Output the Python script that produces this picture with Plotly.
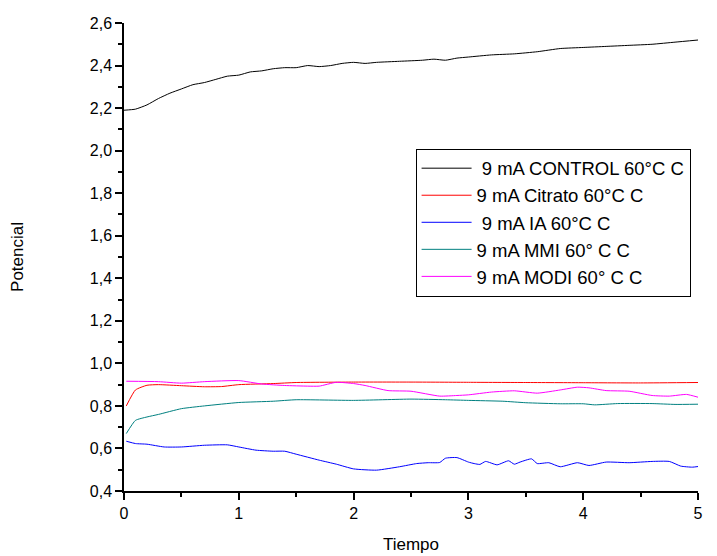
import plotly.graph_objects as go

# ---- data ----
x_control = [0.0, 0.1, 0.2, 0.3, 0.4, 0.5, 0.6, 0.7, 0.8, 0.9, 1.0, 1.1, 1.2, 1.3, 1.4, 1.5, 1.6, 1.7, 1.8,
             1.9, 2.0, 2.1, 2.2, 2.4, 2.6, 2.7, 2.8, 2.9, 3.0, 3.2, 3.4, 3.6, 3.8, 4.0, 4.2, 4.4, 4.6, 4.8, 5.0]
y_control = [2.19, 2.195, 2.215, 2.245, 2.27, 2.29, 2.31, 2.32, 2.335, 2.35, 2.355, 2.37, 2.375, 2.385, 2.39,
             2.39, 2.40, 2.395, 2.40, 2.41, 2.415, 2.41, 2.415, 2.42, 2.425, 2.43, 2.425, 2.435, 2.44, 2.45,
             2.455, 2.465, 2.48, 2.485, 2.49, 2.495, 2.50, 2.51, 2.52]

x_citrato = [0.02, 0.1, 0.2, 0.3, 0.5, 0.7, 0.85, 1.0, 1.3, 1.5, 2.0, 2.5, 3.0, 3.5, 4.0, 4.5, 5.0]
y_citrato = [0.80, 0.875, 0.897, 0.90, 0.895, 0.89, 0.891, 0.90, 0.905, 0.91, 0.912, 0.912, 0.911, 0.91,
             0.909, 0.908, 0.91]

x_ia = [0.02, 0.1, 0.2, 0.35, 0.5, 0.7, 0.9, 1.0, 1.15, 1.3, 1.4, 1.5, 1.7, 1.85, 2.0, 2.2, 2.4, 2.55, 2.65,
        2.75, 2.8, 2.9, 3.0, 3.05, 3.1, 3.15, 3.25, 3.35, 3.4, 3.45, 3.55, 3.6, 3.7, 3.8, 3.95, 4.05, 4.2,
        4.4, 4.6, 4.75, 4.85, 4.95, 5.0]
y_ia = [0.634, 0.623, 0.62, 0.607, 0.607, 0.615, 0.617, 0.607, 0.592, 0.587, 0.587, 0.573, 0.545, 0.526,
        0.504, 0.498, 0.514, 0.529, 0.533, 0.534, 0.554, 0.557, 0.536, 0.529, 0.525, 0.539, 0.523, 0.542,
        0.526, 0.536, 0.551, 0.529, 0.533, 0.514, 0.533, 0.52, 0.536, 0.533, 0.539, 0.539, 0.517, 0.512,
        0.515]

x_mmi = [0.02, 0.1, 0.2, 0.3, 0.5, 0.7, 1.0, 1.3, 1.5, 2.0, 2.5, 2.8, 3.0, 3.3, 3.5, 3.8, 4.0, 4.1, 4.3,
         4.6, 4.8, 5.0]
y_mmi = [0.67, 0.732, 0.748, 0.76, 0.787, 0.80, 0.816, 0.822, 0.829, 0.826, 0.832, 0.829, 0.826, 0.822,
         0.815, 0.81, 0.81, 0.805, 0.811, 0.811, 0.807, 0.808]

x_modi = [0.02, 0.3, 0.5, 0.7, 1.0, 1.2, 1.4, 1.6, 1.7, 1.85, 2.0, 2.1, 2.3, 2.5, 2.75, 2.9, 3.0, 3.2, 3.4,
          3.6, 3.8, 3.95, 4.05, 4.2, 4.4, 4.6, 4.75, 4.9, 5.0]
y_modi = [0.916, 0.914, 0.907, 0.914, 0.919, 0.903, 0.896, 0.893, 0.893, 0.911, 0.905, 0.896, 0.872,
          0.869, 0.846, 0.849, 0.852, 0.865, 0.871, 0.86, 0.875, 0.888, 0.885, 0.872, 0.869, 0.849, 0.846,
          0.854, 0.841]

names = [" 9 mA CONTROL 60°C C", "9 mA Citrato 60°C C", " 9 mA IA 60°C C", "9 mA MMI 60° C C",
         "9 mA MODI 60° C C"]
colors = ["#000000", "#FF0000", "#0000FF", "#008080", "#FF00FF"]

x_ticks = [0, 1, 2, 3, 4, 5]
y_ticks = [0.4, 0.6, 0.8, 1.0, 1.2, 1.4, 1.6, 1.8, 2.0, 2.2, 2.4, 2.6]

series = [(x_control, y_control), (x_citrato, y_citrato), (x_ia, y_ia), (x_mmi, y_mmi), (x_modi, y_modi)]

FONT = "Arial, Liberation Sans, sans-serif"

fig = go.Figure()
for (xs, ys), nm, c in zip(series, names, colors):
    fig.add_trace(go.Scatter(x=xs, y=ys, mode="lines", name=nm,
                             line=dict(color=c, width=1, shape="spline", smoothing=0.5)))

axis_common = dict(showline=True, linecolor="black", linewidth=1.5, showgrid=False, zeroline=False,
                   ticks="outside", ticklen=7, tickwidth=1.5, tickcolor="black",
                   tickfont=dict(family=FONT, size=16, color="black"), mirror=False)

fig.update_xaxes(range=[0, 5], tickvals=x_ticks, ticktext=[str(v) for v in x_ticks],
                 minor=dict(ticks="outside", ticklen=4, tickwidth=1.5, tickcolor="black", dtick=0.5),
                 title=dict(text="Tiempo", font=dict(family=FONT, size=17, color="black"), standoff=17),
                 **axis_common)
fig.update_yaxes(range=[0.4, 2.6], tickvals=y_ticks, tickformat=".1f",
                 minor=dict(ticks="outside", ticklen=4, tickwidth=1.5, tickcolor="black", dtick=0.1),
                 title=dict(text="Potencial", font=dict(family=FONT, size=17, color="black"), standoff=68),
                 **axis_common)

fig.update_layout(
    width=709, height=548,
    margin=dict(l=116, r=19, t=15, b=65, autoexpand=False),
    paper_bgcolor="white", plot_bgcolor="white",
    separators=",.",
    font=dict(family=FONT, color="black"),
    showlegend=True,
    legend=dict(x=0.508, y=0.7315, xanchor="left", yanchor="top",
                bordercolor="black", borderwidth=1, bgcolor="white",
                font=dict(family=FONT, size=18.5, color="black"),
                itemwidth=50, tracegroupgap=0),
)

fig.write_html("out.html")
